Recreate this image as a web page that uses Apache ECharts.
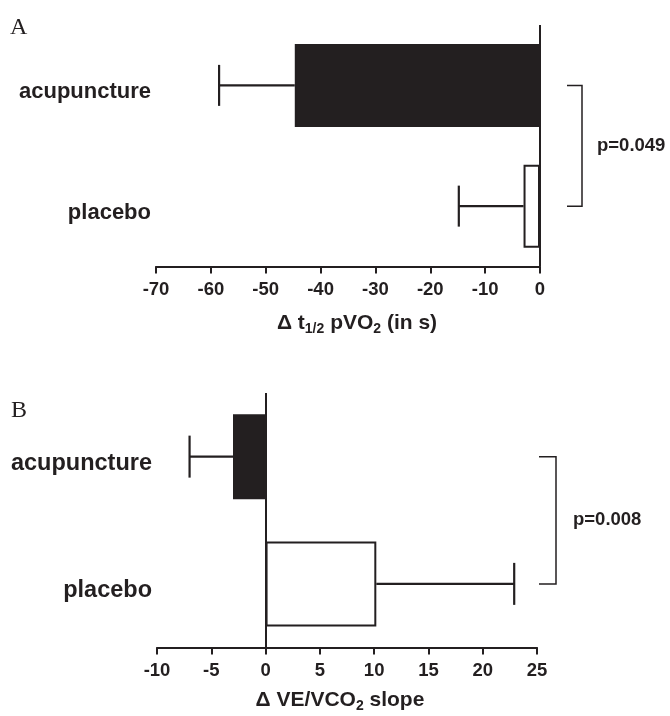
<!DOCTYPE html>
<html>
<head>
<meta charset="utf-8">
<script src="https://cdn.jsdelivr.net/npm/echarts@6/dist/echarts.min.js"></script>
<style>html,body{margin:0;padding:0;background:#fff;}#c{width:670px;height:716px;}</style>
</head>
<body>
<div id="c"></div>
<script>
const categories = ['acupuncture', 'placebo'];
// Panel A: change in t1/2 pVO2 (s)
const meanA = [-44.7, -3.0];
const errEndA = [-58.5, -14.8];
const axisA = [-70, 0, 10];
// Panel B: change in VE/VCO2 slope
const meanB = [-3.0, 10.2];
const errEndB = [-7.0, 22.9];
const axisB = [-10, 25, 5];
const pValues = ['p=0.049', 'p=0.008'];

const INK = '#231f20';
const FONT = '"Liberation Sans", Arial, sans-serif';

function barData(means) {
  return means.map((v, i) => ({
    value: v,
    itemStyle: i === 0
      ? { color: INK, borderColor: INK, borderWidth: 2 }
      : { color: '#ffffff', borderColor: INK, borderWidth: 2 }
  }));
}

function errSeries(idx, means, ends, capHalf) {
  return {
    type: 'custom', xAxisIndex: idx, yAxisIndex: idx, z: 1,
    encode: { x: [0, 1], y: 2 },
    data: means.map((m, i) => [m, ends[i], i]),
    renderItem: function (params, api) {
      const p1 = api.coord([api.value(0), api.value(2)]);
      const p2 = api.coord([api.value(1), api.value(2)]);
      return {
        type: 'group',
        children: [
          { type: 'line', shape: { x1: p1[0], y1: p1[1], x2: p2[0], y2: p2[1] }, style: { stroke: INK, lineWidth: 2.2 } },
          { type: 'line', shape: { x1: p2[0], y1: p2[1] - capHalf, x2: p2[0], y2: p2[1] + capHalf }, style: { stroke: INK, lineWidth: 2.2 } }
        ]
      };
    }
  };
}

function bracketSeries(idx, xMax, off1, off2, gap, text) {
  return {
    type: 'custom', xAxisIndex: idx, yAxisIndex: idx, z: 3, clip: false,
    encode: { x: 0, y: 1 },
    data: [[xMax, 0]],
    renderItem: function (params, api) {
      const t = api.coord([xMax, 0]);
      const b = api.coord([xMax, 1]);
      const x0 = t[0] + off1, x1 = t[0] + off2;
      return {
        type: 'group',
        children: [
          { type: 'polyline', shape: { points: [[x0, t[1]], [x1, t[1]], [x1, b[1]], [x0, b[1]]] }, style: { stroke: INK, lineWidth: 1.5, fill: null } },
          { type: 'text', style: { text: text, x: x1 + gap, y: (t[1] + b[1]) / 2, font: 'bold 18.5px ' + FONT, fill: INK, textAlign: 'left', textVerticalAlign: 'middle', align: 'left', verticalAlign: 'middle' } }
        ]
      };
    }
  };
}

const subRich = {
  n: { fontSize: 21, fontWeight: 'bold', fontFamily: FONT, color: INK },
  s: { fontSize: 14, fontWeight: 'bold', fontFamily: FONT, color: INK, padding: [12, 0, 0, 0] }
};

function xAx(idx, range, name, nameGap, namePad) {
  return {
    type: 'value', gridIndex: idx, min: range[0], max: range[1], interval: range[2],
    axisLine: { show: true, lineStyle: { color: INK, width: 2 } },
    axisTick: { show: true, length: 7, lineStyle: { color: INK, width: 2 } },
    axisLabel: { fontSize: 18.5, fontWeight: 'bold', fontFamily: FONT, color: INK, margin: 14 },
    splitLine: { show: false },
    name: name, nameLocation: 'middle', nameGap: nameGap,
    nameTextStyle: { rich: subRich, padding: namePad }
  };
}

function yAx(idx, size) {
  return {
    type: 'category', gridIndex: idx, data: categories, inverse: true,
    axisLine: { show: false }, axisTick: { show: false },
    axisLabel: { fontSize: size, fontWeight: 'bold', fontFamily: FONT, color: INK, margin: 5, verticalAlign: 'top', lineHeight: 14 }
  };
}

function zeroLine() {
  return {
    symbol: 'none', silent: true, label: { show: false },
    lineStyle: { color: INK, width: 2, type: 'solid' },
    data: [{ xAxis: 0 }]
  };
}

const chart = echarts.init(document.getElementById('c'));
chart.setOption({
  animation: false,
  backgroundColor: '#ffffff',
  grid: [
    { left: 156, right: 130, top: 25, height: 241.5 },
    { left: 157, right: 133, top: 393, height: 254.5 }
  ],
  xAxis: [
    xAx(0, axisA, '{n|Δ t}{s|1/2}{n| pVO}{s|2}{n| (in s)}', 44, [0, 0, 0, 18]),
    xAx(1, axisB, '{n|Δ VE/VCO}{s|2}{n| slope}', 40, [0, 14, 0, 0])
  ],
  yAxis: [yAx(0, 22), yAx(1, 23.5)],
  graphic: [
    { type: 'text', left: 10, top: 16, style: { text: 'A', font: '24px "Liberation Serif", "DejaVu Serif", serif', fill: INK } },
    { type: 'text', left: 11, top: 399, style: { text: 'B', font: '24px "Liberation Serif", "DejaVu Serif", serif', fill: INK } }
  ],
  series: [
    { type: 'bar', xAxisIndex: 0, yAxisIndex: 0, barWidth: 83, z: 2, data: barData(meanA), markLine: zeroLine() },
    errSeries(0, meanA, errEndA, 20.5),
    bracketSeries(0, axisA[1], 27, 42, 15, pValues[0]),
    { type: 'bar', xAxisIndex: 1, yAxisIndex: 1, barWidth: 85, z: 2, data: barData(meanB), markLine: zeroLine() },
    errSeries(1, meanB, errEndB, 21),
    bracketSeries(1, axisB[1], 2, 19, 17, pValues[1])
  ]
});
</script>
</body>
</html>
